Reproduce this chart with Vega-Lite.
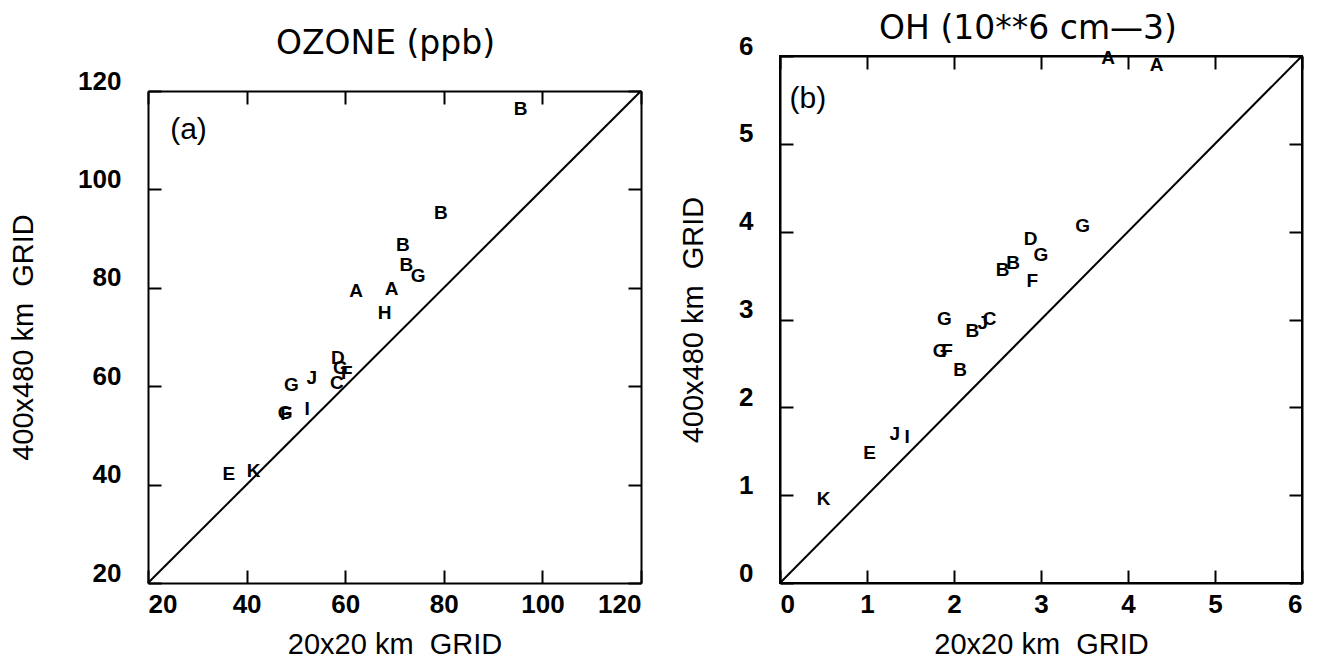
{
  "$schema": "https://vega.github.io/schema/vega-lite/v6.json",
  "padding": {"left": 9, "top": 12, "right": 5, "bottom": 0},
  "background": "white",
  "config": {
    "view": {"stroke": "black", "strokeWidth": 2},
    "axis": {"grid": false, "domainColor": "black", "domainWidth": 2, "tickColor": "black", "tickWidth": 2, "tickSize": -13,
      "labelFont": "Liberation Sans", "labelFontWeight": "bold", "labelFontSize": 26, "labelColor": "black",
      "titleFont": "Liberation Sans", "titleFontWeight": "normal", "titleFontSize": 29, "titleColor": "black"},
    "axisLeft": {"labelOffset": -10, "labelPadding": 40, "titlePadding": 39},
    "axisBottom": {"labelPadding": 21, "titlePadding": 13},
    "title": {"font": "DejaVu Sans", "fontSize": 33, "fontWeight": "normal", "color": "black", "frame": "group"},
    "concat": {"spacing": 33}
  },
  "datasets": {
    "ozone": [
      {"x": 95.6, "y": 116.3, "t": "B"}, {"x": 79.4, "y": 95.3, "t": "B"}, {"x": 71.7, "y": 88.8, "t": "B"},
      {"x": 72.4, "y": 84.7, "t": "B"}, {"x": 74.8, "y": 82.4, "t": "G"}, {"x": 62.2, "y": 79.3, "t": "A"},
      {"x": 69.4, "y": 79.7, "t": "A"}, {"x": 68.0, "y": 74.8, "t": "H"}, {"x": 58.5, "y": 65.8, "t": "D"},
      {"x": 59.0, "y": 63.6, "t": "G"}, {"x": 60.3, "y": 62.6, "t": "F"}, {"x": 58.3, "y": 60.6, "t": "C"},
      {"x": 49.1, "y": 60.3, "t": "G"}, {"x": 53.2, "y": 61.7, "t": "J"}, {"x": 47.8, "y": 54.6, "t": "G"},
      {"x": 48.0, "y": 54.4, "t": "F"}, {"x": 52.3, "y": 55.3, "t": "I"}, {"x": 36.4, "y": 42.2, "t": "E"},
      {"x": 41.4, "y": 42.7, "t": "K"}
    ],
    "oh": [
      {"x": 3.77, "y": 5.98, "t": "A"}, {"x": 4.33, "y": 5.9, "t": "A"}, {"x": 3.48, "y": 4.07, "t": "G"},
      {"x": 2.88, "y": 3.92, "t": "D"}, {"x": 3.0, "y": 3.73, "t": "G"}, {"x": 2.56, "y": 3.56, "t": "B"},
      {"x": 2.68, "y": 3.64, "t": "B"}, {"x": 2.9, "y": 3.44, "t": "F"}, {"x": 1.89, "y": 3.01, "t": "G"},
      {"x": 2.41, "y": 3.01, "t": "C"}, {"x": 2.33, "y": 2.96, "t": "J"}, {"x": 2.21, "y": 2.87, "t": "B"},
      {"x": 1.84, "y": 2.64, "t": "G"}, {"x": 1.92, "y": 2.64, "t": "F"}, {"x": 2.07, "y": 2.42, "t": "B"},
      {"x": 1.32, "y": 1.7, "t": "J"}, {"x": 1.46, "y": 1.66, "t": "I"}, {"x": 1.03, "y": 1.48, "t": "E"},
      {"x": 0.5, "y": 0.96, "t": "K"}
    ],
    "diagA": [{"x": 20, "y": 20}, {"x": 120, "y": 120}],
    "diagB": [{"x": 0, "y": 0}, {"x": 6, "y": 6}],
    "labA": [{"x": 24.5, "y": 112, "t": "(a)"}],
    "labB": [{"x": 0.11, "y": 5.51, "t": "(b)"}]
  },
  "hconcat": [
    {
      "width": 493, "height": 527,
      "view": {"stroke": null},
      "title": {"text": "OZONE (ppb)", "offset": -5, "dx": -9},
      "layer": [
        {
          "data": {"name": "diagA"},
          "mark": {"type": "line", "color": "black", "strokeWidth": 2},
          "encoding": {
            "x": {"field": "x", "type": "quantitative", "scale": {"domain": [20, 120], "nice": false, "zero": false},
              "axis": {"orient": "bottom", "values": [20, 40, 60, 80, 100, 120], "title": "20x20 km\u00a0 GRID"}},
            "y": {"field": "y", "type": "quantitative", "scale": {"domain": [20, 120], "nice": false, "zero": false, "range": [527, 35]},
              "axis": {"orient": "left", "values": [20, 40, 60, 80, 100, 120], "title": "400x480 km\u00a0 GRID"}}
          }
        },
        {
          "data": {"name": "ozone"},
          "mark": {"type": "text", "font": "Liberation Sans", "fontSize": 19, "fontWeight": "bold", "color": "black", "clip": false},
          "encoding": {
            "x": {"field": "x", "type": "quantitative", "axis": {"orient": "top", "labels": false, "title": null, "offset": -35, "values": [20, 40, 60, 80, 100, 120]}},
            "y": {"field": "y", "type": "quantitative", "axis": {"orient": "right", "labels": false, "title": null, "values": [20, 40, 60, 80, 100, 120]}},
            "text": {"field": "t"}
          }
        },
        {
          "data": {"name": "labA"},
          "mark": {"type": "text", "font": "Liberation Sans", "fontSize": 30, "align": "left", "baseline": "middle", "color": "black"},
          "encoding": {
            "x": {"field": "x", "type": "quantitative", "axis": null},
            "y": {"field": "y", "type": "quantitative", "axis": null},
            "text": {"field": "t"}
          }
        }
      ],
      "resolve": {"axis": {"x": "independent", "y": "independent"}}
    },
    {
      "width": 522, "height": 527,
      "title": {"text": "OH (10**6 cm\u20143)", "offset": -13, "dx": -13},
      "layer": [
        {
          "data": {"name": "diagB"},
          "mark": {"type": "line", "color": "black", "strokeWidth": 2},
          "encoding": {
            "x": {"field": "x", "type": "quantitative", "scale": {"domain": [0, 6], "nice": false},
              "axis": {"orient": "bottom", "values": [0, 1, 2, 3, 4, 5, 6], "title": "20x20 km\u00a0 GRID"}},
            "y": {"field": "y", "type": "quantitative", "scale": {"domain": [0, 6], "nice": false},
              "axis": {"orient": "left", "values": [0, 1, 2, 3, 4, 5, 6], "title": "400x480 km\u00a0 GRID", "titlePadding": 30}}
          }
        },
        {
          "data": {"name": "oh"},
          "mark": {"type": "text", "font": "Liberation Sans", "fontSize": 19, "fontWeight": "bold", "color": "black", "clip": false},
          "encoding": {
            "x": {"field": "x", "type": "quantitative", "axis": {"orient": "top", "labels": false, "title": null, "values": [0, 1, 2, 3, 4, 5, 6]}},
            "y": {"field": "y", "type": "quantitative", "axis": {"orient": "right", "labels": false, "title": null, "values": [0, 1, 2, 3, 4, 5, 6]}},
            "text": {"field": "t"}
          }
        },
        {
          "data": {"name": "labB"},
          "mark": {"type": "text", "font": "Liberation Sans", "fontSize": 30, "align": "left", "baseline": "middle", "color": "black"},
          "encoding": {
            "x": {"field": "x", "type": "quantitative", "axis": null},
            "y": {"field": "y", "type": "quantitative", "axis": null},
            "text": {"field": "t"}
          }
        }
      ],
      "resolve": {"axis": {"x": "independent", "y": "independent"}}
    }
  ]
}
